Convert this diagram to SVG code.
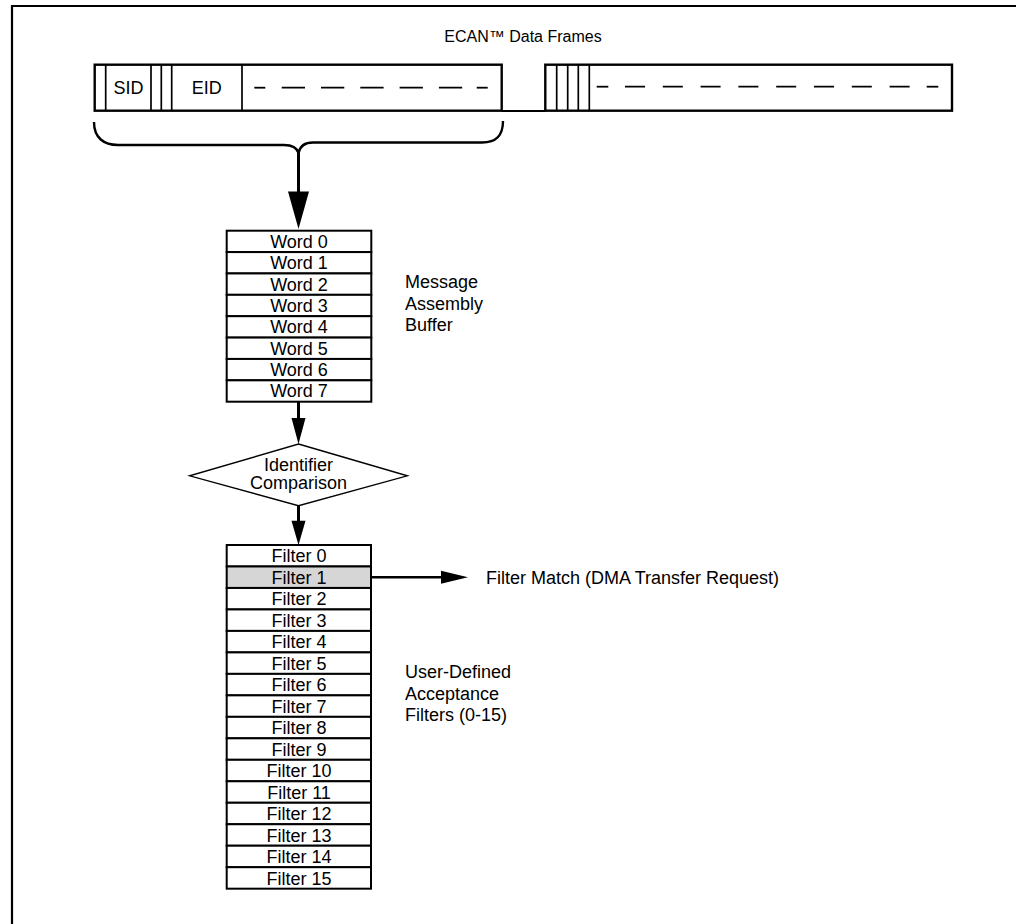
<svg xmlns="http://www.w3.org/2000/svg" width="1016" height="924" viewBox="0 0 1016 924">
<style>
  text { font-family: "Liberation Sans", Arial, sans-serif; font-size: 18px; fill: #000; }
  .c { text-anchor: middle; }
  .box { fill: none; stroke: #000; stroke-width: 2.4; }
  .cell { fill: #fff; stroke: #000; stroke-width: 2; }
  .thin { stroke: #000; stroke-width: 1.7; fill: none; }
  .dash1 { stroke: #000; stroke-width: 1.8; stroke-dasharray: 23.3 16; fill: none; }
  .dash2 { stroke: #000; stroke-width: 1.8; stroke-dasharray: 20 17.8; fill: none; }
  .conn { stroke: #000; stroke-width: 3; fill: none; }
  .head { fill: #000; stroke: none; }
</style>
<rect x="0" y="0" width="1016" height="924" fill="#fff"/>
<g id="outer-frame">
  <path d="M 12 924 L 12 6 L 1016 6" fill="none" stroke="#000" stroke-width="2.2"/>
</g>
<g id="title">
  <text x="523" y="42" class="c" style="font-size:16px">ECAN™ Data Frames</text>
</g>
<g id="frame1">
  <rect x="94.7" y="64.7" width="407" height="46" class="box"/>
  <line x1="105.7" y1="64.7" x2="105.7" y2="110.7" class="thin"/>
  <line x1="151" y1="64.7" x2="151" y2="110.7" class="thin"/>
  <line x1="161.3" y1="64.7" x2="161.3" y2="110.7" class="thin"/>
  <line x1="171.7" y1="64.7" x2="171.7" y2="110.7" class="thin"/>
  <line x1="242" y1="64.7" x2="242" y2="110.7" class="thin"/>
  <text x="128.4" y="94" class="c">SID</text>
  <text x="206.8" y="94" class="c">EID</text>
  <line x1="254.3" y1="87.7" x2="265.3" y2="87.7" class="thin" style="stroke-width:1.8"/>
  <line x1="281.7" y1="87.7" x2="470" y2="87.7" class="dash1"/>
  <line x1="476.7" y1="87.7" x2="487.7" y2="87.7" class="thin" style="stroke-width:1.8"/>
</g>
<g id="frame2">
  <rect x="545.3" y="64.7" width="406.7" height="46" class="box"/>
  <line x1="556.7" y1="64.7" x2="556.7" y2="110.7" class="thin"/>
  <line x1="567.7" y1="64.7" x2="567.7" y2="110.7" class="thin"/>
  <line x1="578.3" y1="64.7" x2="578.3" y2="110.7" class="thin"/>
  <line x1="589.3" y1="64.7" x2="589.3" y2="110.7" class="thin"/>
  <line x1="596.7" y1="86.7" x2="608.3" y2="86.7" class="thin" style="stroke-width:1.8"/>
  <line x1="625" y1="86.7" x2="910" y2="86.7" class="dash2"/>
  <line x1="926.7" y1="86.7" x2="938.3" y2="86.7" class="thin" style="stroke-width:1.8"/>
</g>
<g id="connectors">
  <line x1="501.7" y1="111" x2="545.3" y2="111" class="thin" style="stroke-width:2"/>
  <path d="M 94 122 C 94 138, 104 145, 118 145 L 284 145 C 292 145, 297 148, 298.5 153 C 300 146, 305 142.5, 313 142.5 L 482 142.5 C 496 142.5, 503 136, 503 121" fill="none" stroke="#000" stroke-width="2.4"/>
  <line x1="298.5" y1="152" x2="298.5" y2="193" class="conn"/>
  <polygon points="288,191.5 309,191.5 298.5,229" class="head"/>
  <line x1="298.5" y1="401.7" x2="298.5" y2="420" class="conn"/>
  <polygon points="291.5,418 305.5,418 298.5,444" class="head"/>
  <line x1="298.5" y1="505.7" x2="298.5" y2="522" class="conn"/>
  <polygon points="291.5,520.7 305.5,520.7 298.5,545" class="head"/>
  <line x1="357" y1="577.2" x2="443" y2="577.2" stroke="#000" stroke-width="2.6"/>
  <polygon points="441,570.7 441,583.7 468,577.2" class="head"/>
</g>
<g id="message-buffer">
  <rect x="226.7" y="230.7" width="144.6" height="21.375" class="cell"/>
  <rect x="226.7" y="252.075" width="144.6" height="21.375" class="cell"/>
  <rect x="226.7" y="273.45" width="144.6" height="21.375" class="cell"/>
  <rect x="226.7" y="294.825" width="144.6" height="21.375" class="cell"/>
  <rect x="226.7" y="316.2" width="144.6" height="21.375" class="cell"/>
  <rect x="226.7" y="337.575" width="144.6" height="21.375" class="cell"/>
  <rect x="226.7" y="358.95" width="144.6" height="21.375" class="cell"/>
  <rect x="226.7" y="380.325" width="144.6" height="21.375" class="cell"/>
  <text x="299" y="247.7" class="c">Word 0</text>
  <text x="299" y="269.1" class="c">Word 1</text>
  <text x="299" y="290.5" class="c">Word 2</text>
  <text x="299" y="311.8" class="c">Word 3</text>
  <text x="299" y="333.2" class="c">Word 4</text>
  <text x="299" y="354.6" class="c">Word 5</text>
  <text x="299" y="376" class="c">Word 6</text>
  <text x="299" y="397.3" class="c">Word 7</text>
</g>
<g id="message-buffer-label">
  <text x="405" y="288.3">Message</text>
  <text x="405" y="309.5">Assembly</text>
  <text x="405" y="330.5">Buffer</text>
</g>
<g id="identifier-comparison">
  <polygon points="298.5,444 407.3,475.8 298.5,505.7 189.7,475.8" fill="#fff" stroke="#000" stroke-width="1.4"/>
  <text x="298.5" y="470.5" class="c">Identifier</text>
  <text x="298.5" y="488.5" class="c">Comparison</text>
</g>
<g id="filters">
  <rect x="226.7" y="545" width="144.3" height="21.48" class="cell"/>
  <rect x="226.7" y="566.48" width="144.3" height="21.48" class="cell" style="fill:#d6d6d6"/>
  <rect x="226.7" y="587.96" width="144.3" height="21.48" class="cell"/>
  <rect x="226.7" y="609.44" width="144.3" height="21.48" class="cell"/>
  <rect x="226.7" y="630.92" width="144.3" height="21.48" class="cell"/>
  <rect x="226.7" y="652.4" width="144.3" height="21.48" class="cell"/>
  <rect x="226.7" y="673.88" width="144.3" height="21.48" class="cell"/>
  <rect x="226.7" y="695.36" width="144.3" height="21.48" class="cell"/>
  <rect x="226.7" y="716.84" width="144.3" height="21.48" class="cell"/>
  <rect x="226.7" y="738.32" width="144.3" height="21.48" class="cell"/>
  <rect x="226.7" y="759.8" width="144.3" height="21.48" class="cell"/>
  <rect x="226.7" y="781.28" width="144.3" height="21.48" class="cell"/>
  <rect x="226.7" y="802.76" width="144.3" height="21.48" class="cell"/>
  <rect x="226.7" y="824.24" width="144.3" height="21.48" class="cell"/>
  <rect x="226.7" y="845.72" width="144.3" height="21.48" class="cell"/>
  <rect x="226.7" y="867.2" width="144.3" height="21.48" class="cell"/>
  <text x="299" y="562.3" class="c">Filter 0</text>
  <text x="299" y="583.8" class="c">Filter 1</text>
  <text x="299" y="605.3" class="c">Filter 2</text>
  <text x="299" y="626.7" class="c">Filter 3</text>
  <text x="299" y="648.2" class="c">Filter 4</text>
  <text x="299" y="669.7" class="c">Filter 5</text>
  <text x="299" y="691.2" class="c">Filter 6</text>
  <text x="299" y="712.7" class="c">Filter 7</text>
  <text x="299" y="734.1" class="c">Filter 8</text>
  <text x="299" y="755.6" class="c">Filter 9</text>
  <text x="299" y="777.1" class="c">Filter 10</text>
  <text x="299" y="798.6" class="c">Filter 11</text>
  <text x="299" y="820.1" class="c">Filter 12</text>
  <text x="299" y="841.5" class="c">Filter 13</text>
  <text x="299" y="863" class="c">Filter 14</text>
  <text x="299" y="884.5" class="c">Filter 15</text>
</g>
<g id="filters-label">
  <text x="405" y="678">User-Defined</text>
  <text x="405" y="699.5">Acceptance</text>
  <text x="405" y="721">Filters (0-15)</text>
</g>
<g id="filter-match-label">
  <text x="486" y="583.5">Filter Match (DMA Transfer Request)</text>
</g>
</svg>
